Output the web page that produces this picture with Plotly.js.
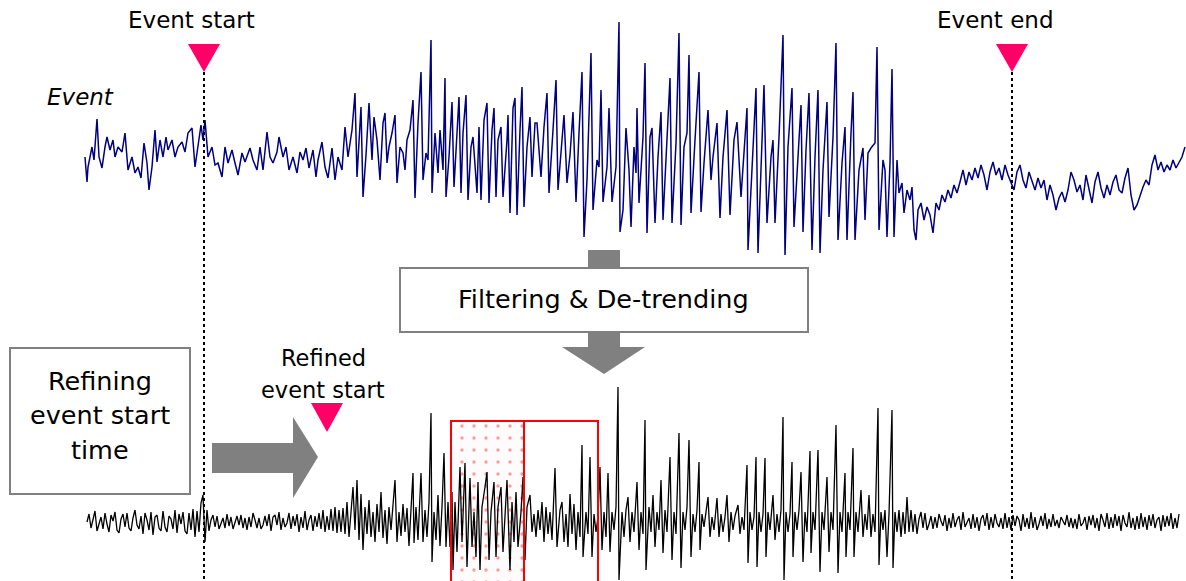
<!DOCTYPE html>
<html>
<head>
<meta charset="utf-8">
<script src="https://cdn.plot.ly/plotly-3.0.1.min.js"></script>
<style>
  html, body { margin: 0; padding: 0; background: #ffffff; }
  #chart { width: 1186px; height: 581px; }
</style>
</head>
<body>
<div id="chart"></div>
<script>
// ---------------- DATA ----------------
// Time axis in samples; amplitude in arbitrary units (positive = up).

// Raw event recording (top, navy): irregularly read samples
const rawTime = [
  0,2,3,7,9,12,14,17,20,22,
  25,28,30,33,37,40,43,47,50,53,
  56,59,62,64,67,70,72,75,78,81,
  83,87,90,93,97,100,103,107,110,113,
  116,118,120,123,127,130,133,137,140,143,
  147,150,153,157,160,165,168,172,175,178,
  182,185,188,192,194,198,201,204,208,212,
  215,218,221,224,228,231,233,237,240,243,
  247,250,253,257,260,263,267,270,272,276,
  278,281,284,287,289,292,295,298,300,302,
  304,307,310,312,315,318,320,322,325,328,
  330,333,336,338,341,343,346,347,350,353,
  355,358,360,361,364,367,369,372,374,376,
  378,381,383,386,388,392,394,396,399,402,
  404,407,409,411,413,416,418,422,423,425,
  428,430,432,435,437,439,442,445,447,450,
  452,456,459,462,464,468,471,473,476,479,
  482,485,488,491,494,497,499,502,506,508,
  512,514,516,518,522,524,527,531,534,535,
  538,541,544,546,549,551,552,554,558,560,
  562,565,567,570,573,576,578,582,585,587,
  591,594,596,599,602,604,606,610,614,616,
  619,623,626,628,632,635,638,642,645,649,
  652,656,659,662,663,667,671,673,677,679,
  682,686,688,690,694,698,700,703,707,709,
  713,716,718,721,724,727,730,733,735,738,
  742,744,748,751,753,757,760,762,766,768,
  770,774,778,780,783,786,790,792,794,798,
  800,802,805,807,809,812,814,817,819,822,
  825,827,829,831
];
const rawAmp = [
  3,-22,-7,13,0,41,3,-8,13,23,
  10,20,3,13,8,27,-10,3,-13,-7,
  -18,17,-3,-30,-7,30,-2,20,3,23,
  10,20,3,13,18,8,27,32,-7,17,
  35,20,40,3,13,-5,-3,-17,13,-3,
  10,-3,-15,7,-2,12,0,-10,13,-10,
  28,3,-3,8,23,3,13,-10,3,-13,
  8,0,12,-8,10,-17,0,18,-7,-18,
  12,-20,3,-10,33,3,30,67,-17,53,
  -37,5,57,0,43,20,-20,37,47,-3,
  13,27,45,-23,13,7,-10,20,30,60,
  -38,37,88,-20,7,0,120,-33,27,-13,
  30,-10,82,-37,3,58,-27,27,63,-33,
  27,65,-40,13,23,-33,33,-40,40,57,
  -43,30,52,-37,20,33,-37,20,45,-53,
  52,62,-55,30,73,-47,13,43,-17,37,
  37,-17,33,67,-33,30,80,-30,10,45,
  -23,5,48,-42,27,88,-77,-20,107,-50,
  0,-7,70,-42,-7,52,-42,-7,138,-72,
  -50,32,-10,-67,13,-13,52,-43,23,97,
  -73,23,32,-63,3,48,-60,23,82,-63,
  17,127,-65,13,27,105,-53,20,88,-52,
  -3,50,-20,3,37,-58,3,50,-55,20,
  38,-37,7,52,-90,-10,72,-93,13,75,
  -63,3,20,-63,23,125,-95,13,72,-67,
  3,55,-72,10,67,-90,3,70,-93,-10,
  58,-57,23,117,-80,-3,33,-80,27,68,
  -80,-10,12,-60,7,12,17,113,-70,0,
  -10,-77,-3,91,-77,0,-33,-23,-53,-30,
  -40,-27,-70,-80
];
// Raw recording tail, regular sampling (start 833, every 3 samples)
const rawTailStart = 833, rawTailStep = 3;
const rawTailAmp = [
  -50,-43,-60,-47,-55,-73,-43,-50,-35,-42,
  -30,-38,-25,-33,-22,-10,-25,-12,-20,-8,
  -18,-5,-15,-30,-12,-2,-15,-8,-20,-5,
  -15,-22,-30,-12,-5,-20,-28,-12,-20,-30,
  -18,-28,-20,-40,-25,-35,-50,-38,-32,-42,
  -30,-12,-20,-32,-25,-40,-15,-30,-43,-22,
  -12,-28,-38,-25,-35,-22,-15,-30,-33,-18,
  -8,-35,-50,-45,-35,-27,-20,-25,-5,5,
  -10,-2,-12,-5,-10,0,-8,-3,3,13
];

// Filtered & de-trended signal (bottom, black)
const filtHeadStart = 2, filtHeadStep = 2;
const filtHeadAmp = [
  0,8,-6,4,11,-9,-3,5,-7,9,
  -2,-10,7,1,10,-8,-11,3,8,-5,
  9,-6,-9,4,12,-3,-7,6,-12,9,
  2,-8,10,-13,5,7,-6,-9,11,-5,
  -10,6,3,-7,12,-11,8,-2,10,-9,
  -12,9,-8,13,-15,11,-10,19,27,-20,
  12,-9,2,7,-5,6,-7,-2,4,-6,
  8,-4,5,-7,1,6,-3,7,-6,4,
  -8,5,-5,9,2,-6,4,-7,-3,6,
  -4,8,-9,5,7,-3,10,-8,4,-5,
  -1,9,-7,6,-4,8,-10,5,-6,11,
  -8,2,7,-9,6,-5,9,-7,12,-10,
  6,-8,13,-9,15,-11,12
];
const filtBurstTime = [
  256,258,260,262,264,266,268,270,272,274,
  276,278,280,282,284,286,288,290,292,294,
  296,298,300,302,304,306,308,310,312,314,
  316,318,320,322,324,326,328,329,331,333,
  336,338,340,342,344,346,347,349,351,353,
  355,357,359,361,363,365,367,368,370,372,
  375,377,380,382,385,387,389,391,393,395,
  397,400,402,404,406,409,411,413,416,418,
  420,422,425,427,429,431,433,436,438,440,
  442,445,447,449,451,453,455,457,459,461,
  463,465,467,470,472,475,477,479,481,483,
  485,487,489,491,493,495,497,498,501,503,
  505,507,509,511,513,515,517,519,521,523,
  525,527,529,531,533,534,537,539,541,543,
  545,547,549,552,554,556,558,560,561,564,
  566,568,570,572,574,576,578,580,582,585,
  587,589,591,594,596,598,600,602,604,606,
  608,610,612,614,615,617,619,621,623,625,
  627,629,632,634,636,638,640,642,644,646,
  648,650,653,655,657,659,662,663,665,667,
  669,671,672,674,676,678,680,681,683,685,
  688,690,692,694,696,698,699,701,703,705,
  707,708,710,712,714,716,718,720,722,725,
  726,728,730,733,735,737,739,742,744,746,
  748,751,753,755,757,760,761,763,765,768,
  769,771,773,776,778,780,782,784,786,788,
  790,793,794,796,798,800,802,804,807,808,
  810,812,814,816,818,820,822,824
];
const filtBurstAmp = [
  -10,14,-12,20,-15,10,35,-8,42,-18,
  28,-28,15,-12,22,-15,10,-20,18,-10,
  30,-16,12,-22,15,-8,20,42,-20,10,
  -14,18,-10,14,-24,20,49,-21,15,-18,
  49,-20,12,-15,20,109,-40,10,-18,27,
  -24,15,69,-25,20,-25,30,-48,20,-30,
  55,-20,59,-45,44,-25,10,-35,40,-48,
  15,35,50,-38,10,40,-35,15,35,-30,
  5,42,-48,20,-20,30,-25,10,45,-38,
  15,27,-10,8,-15,12,-8,20,-20,15,
  -12,10,-18,54,-25,12,20,-20,8,-25,
  28,-12,18,-28,10,-15,77,-35,10,-12,
  65,-35,8,-10,5,55,-28,10,-15,49,
  -30,10,-8,15,135,-58,10,-15,12,25,
  -20,10,-10,40,-28,10,-12,102,-48,15,
  -10,27,-25,10,-8,42,-31,12,-10,65,
  -38,10,-12,89,-46,10,-8,15,82,-35,
  8,-10,12,60,-28,8,-5,10,25,-15,
  5,-8,24,-15,8,-10,5,27,-20,10,
  -8,6,17,-12,5,-8,57,-41,10,-8,
  5,65,-45,10,-10,8,64,-35,10,-8,
  27,-18,8,-10,12,105,-58,10,-10,8,
  60,-35,10,-8,12,50,-40,10,-10,71,
  -31,10,-8,72,-50,10,-8,45,-30,10,
  -8,97,-51,10,-10,49,-35,10,-8,74,
  -35,10,-10,32,-15,8,-8,27,-15,8,
  -10,114,-43,10,-8,12,-35,8,112,-46,
  10,-10,12,-15,10,-12,25,-10
];
const filtTailStart = 826, filtTailStep = 2;
const filtTailAmp = [
  12,-10,8,-12,3,10,-6,9,-8,-2,
  6,-7,5,-6,8,1,-4,7,-9,4,
  -6,9,-5,2,6,-8,10,-5,-1,4,
  -7,8,-6,5,-9,3,7,-4,9,-8,
  5,-6,8,-1,-5,4,-7,9,-6,5,
  -8,7,-4,6,2,-9,8,-5,4,-7,
  10,-6,5,-8,-2,6,-4,9,-7,3,
  -5,8,-4,2,-6,5,1,-3,7,-5,
  4,-6,3,-7,8,-4,-1,5,-8,6,
  -3,7,-6,4,-9,8,2,-5,9,-7,
  5,-6,8,-4,6,-9,7,-1,-5,10,
  -6,4,-8,6,-7,9,-5,5,-8,7,
  -4,8,-6,2,5,-9,7,-5,6,-4,
  9,-7,4,-6,8
];

// Event markers (sample times)
const eventStart = 119;
const eventEnd = 927;
const refinedStart = 242;
// Analysis windows (sample times)
const windowA = [366, 439];   // dotted window
const windowB = [439, 513];   // following window
const windowTop = 101;        // amplitude of window top edge (filtered units)

// ---------------- BUILD ----------------
function regular(start, step, n) { const t = []; for (let i = 0; i < n; i++) t.push(start + i * step); return t; }

const topX = rawTime.concat(regular(rawTailStart, rawTailStep, rawTailAmp.length));
const topY = rawAmp.concat(rawTailAmp);
const botX = regular(filtHeadStart, filtHeadStep, filtHeadAmp.length)
  .concat(filtBurstTime)
  .concat(regular(filtTailStart, filtTailStep, filtTailAmp.length));
const botY = filtHeadAmp.concat(filtBurstAmp).concat(filtTailAmp);

const W = 1186, H = 581;
const px = x => x / W;
const py = y => 1 - y / H;
const FONT = 'DejaVu Sans, Verdana, sans-serif';
const GREY = '#808080';
const PINK = '#FF0066';

const traces = [
  { // dotted window fill
    x: [windowA[0], windowA[1], windowA[1], windowA[0], windowA[0]],
    y: [windowTop, windowTop, -80, -80, windowTop],
    xaxis: 'x', yaxis: 'y2', mode: 'lines', fill: 'toself',
    line: { width: 0, color: 'rgba(0,0,0,0)' },
    fillcolor: 'rgba(255,255,255,0)',
    fillpattern: { shape: '.', fgcolor: '#ff9a9a', bgcolor: '#fdfbfb', size: 12, solidity: 0.06 },
    hoverinfo: 'skip', showlegend: false
  },
  {
    x: topX, y: topY, xaxis: 'x', yaxis: 'y', mode: 'lines',
    line: { color: '#000080', width: 1.5 }, hoverinfo: 'skip', showlegend: false
  },
  {
    x: botX, y: botY, xaxis: 'x', yaxis: 'y2', mode: 'lines',
    line: { color: '#000000', width: 1.3 }, hoverinfo: 'skip', showlegend: false
  }
];

function tri(t, yTop, yTip, half) {
  return { type: 'path', xref: 'x', yref: 'paper',
    path: `M ${t - half},${py(yTop)} L ${t + half},${py(yTop)} L ${t},${py(yTip)} Z`,
    fillcolor: PINK, line: { width: 0 }, layer: 'above' };
}
function poly(pts, color) {
  return { type: 'path', xref: 'paper', yref: 'paper',
    path: 'M ' + pts.map(p => `${px(p[0])},${py(p[1])}`).join(' L ') + ' Z',
    fillcolor: color, line: { width: 0 }, layer: 'above' };
}
function box(x0, y0, x1, y1) {
  return { type: 'rect', xref: 'paper', yref: 'paper',
    x0: px(x0), x1: px(x1), y0: py(y1), y1: py(y0),
    fillcolor: '#ffffff', line: { color: GREY, width: 2 }, layer: 'above' };
}

const shapes = [
  // event lines
  { type: 'line', xref: 'x', yref: 'paper', x0: eventStart, x1: eventStart, y0: py(72), y1: 0,
    line: { color: '#000000', width: 2, dash: 'dot' } },
  { type: 'line', xref: 'x', yref: 'paper', x0: eventEnd, x1: eventEnd, y0: py(72), y1: 0,
    line: { color: '#000000', width: 2, dash: 'dot' } },
  tri(eventStart, 44, 72, 16),
  tri(eventEnd, 44, 72, 16),
  tri(refinedStart, 403, 432, 16),
  // windows
  { type: 'rect', xref: 'x', yref: 'y2', x0: windowA[0], x1: windowA[1], y0: -80, y1: windowTop,
    line: { color: '#ff0000', width: 2 }, fillcolor: 'rgba(0,0,0,0)', layer: 'above' },
  { type: 'rect', xref: 'x', yref: 'y2', x0: windowB[0], x1: windowB[1], y0: -80, y1: windowTop,
    line: { color: '#ff0000', width: 2 }, fillcolor: 'rgba(0,0,0,0)', layer: 'above' },
  // down arrow (stem above box, then head below)
  poly([[588, 250], [620, 250], [620, 270], [588, 270]], GREY),
  box(400, 268, 808, 332),
  poly([[588, 332], [620, 332], [620, 347], [645, 347], [604, 374], [562, 347], [588, 347]], GREY),
  // refining box and right arrow
  box(10, 348, 190, 494),
  poly([[212, 443], [293, 443], [293, 417], [318, 457], [293, 498], [293, 473], [212, 473]], GREY)
];

function txt(s, x, y, size) {
  return { text: s, xref: 'paper', yref: 'paper', x: px(x), y: py(y),
    xanchor: 'center', yanchor: 'middle', showarrow: false,
    font: { family: FONT, size: size, color: '#000000' } };
}

const annotations = [
  txt('Event start', 191, 20, 23),
  txt('Event end', 995, 20, 23),
  txt('<i>Event</i>', 80, 97, 23),
  txt('Filtering &amp; De-trending', 604, 299, 25.5),
  txt('Refining', 100, 381, 25.5),
  txt('event start', 100, 415, 25.5),
  txt('time', 100, 450, 25.5),
  txt('Refined', 323, 358, 22.5),
  txt('event start', 323, 390, 22.5)
];

const layout = {
  width: W, height: H,
  margin: { l: 0, r: 0, t: 0, b: 0 },
  paper_bgcolor: '#ffffff', plot_bgcolor: '#ffffff',
  showlegend: false,
  xaxis: { range: [-85, 1101], visible: false, fixedrange: true },
  yaxis: { range: [-421, 160], visible: false, fixedrange: true },
  yaxis2: { range: [-59, 522], visible: false, overlaying: 'y', fixedrange: true },
  shapes: shapes,
  annotations: annotations,
  font: { family: FONT }
};

Plotly.newPlot('chart', traces, layout, { staticPlot: true, displayModeBar: false });
</script>
</body>
</html>
